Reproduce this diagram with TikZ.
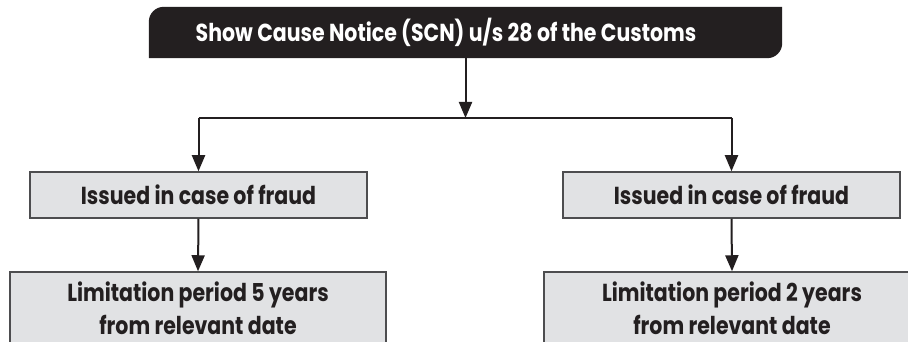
\documentclass[tikz,border=0pt]{standalone}
\usepackage{fontspec}
\setmainfont{Poppins}
\usetikzlibrary{arrows.meta}
\definecolor{inkblack}{HTML}{231F20}
\definecolor{boxgray}{HTML}{E1E2E4}
\definecolor{boxline}{HTML}{4D4D4F}
\newcommand{\tallt}[1]{\scalebox{1}[1.2]{#1}}
\tikzset{
  graybox/.style={draw=boxline, line width=1.5pt, fill=boxgray, inner sep=0pt, text=inkblack,
    font=\fontsize{20.5}{33}\selectfont\bfseries, align=center},
  arr/.style={draw=inkblack, line width=2pt, -{Triangle[width=13pt,length=16pt]}},
  conn/.style={draw=inkblack, line width=2pt}
}
\begin{document}
\begin{tikzpicture}[x=1pt,y=-1pt]
\useasboundingbox (0,0) rectangle (908,342);
\clip (0,0) rectangle (908,342);
% top black box
\node[minimum width=633pt, minimum height=51pt, inner sep=0pt] (scn) at (465.5,32.5) {};
\fill[inkblack] (scn.south west) -- ([yshift=-15pt]scn.north west) to[out=90,in=180] ([xshift=15pt]scn.north west)
  -- (scn.north east) -- ([yshift=15pt]scn.south east) to[out=-90,in=0] ([xshift=-15pt]scn.south east) -- cycle;
\node[text=white, font=\fontsize{20.5}{22}\selectfont\bfseries, inner sep=0pt] (scntext) at (446,32.5) {\tallt{Show Cause Notice (SCN) u/s 28 of the Customs}};
% middle boxes
\node[graybox, minimum width=337pt, minimum height=46pt] (i1) at (198.5,195) {\tallt{Issued in case of fraud}};
\node[graybox, minimum width=337pt, minimum height=46pt] (i2) at (731.5,195) {\tallt{Issued in case of fraud}};
% bottom boxes
\node[graybox, minimum width=376pt, minimum height=72pt] (l1) at (198,308) {\tallt{Limitation period 5 years}\\\tallt{from relevant date}};
\node[graybox, minimum width=376pt, minimum height=72pt] (l2) at (732,308) {\tallt{Limitation period 2 years}\\\tallt{from relevant date}};
% connectors
\coordinate (j) at (465.5,118);
\draw[arr] (scn.south) -- (j);
\draw[conn] (i1.north |- j) -- (i2.north |- j);
\draw[arr] (i1.north |- j) -- (i1.north);
\draw[arr] (i2.north |- j) -- (i2.north);
\draw[arr] (i1.south) -- (l1.north);
\draw[arr] (i2.south) -- (l2.north);
\end{tikzpicture}
\end{document}
